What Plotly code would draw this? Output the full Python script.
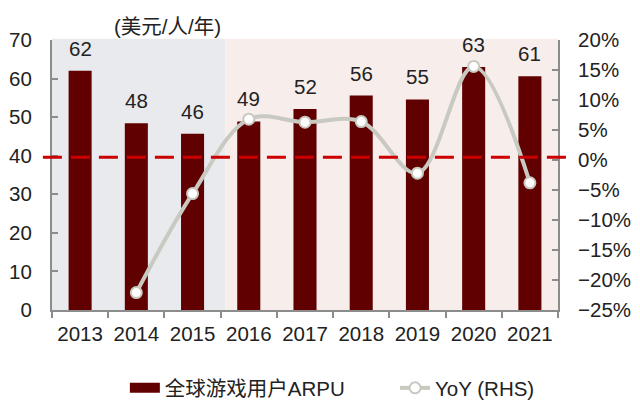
import plotly.graph_objects as go

years = ["2013", "2014", "2015", "2016", "2017", "2018", "2019", "2020", "2021"]
arpu = [62.0, 48.4, 45.7, 48.9, 52.1, 55.6, 54.6, 63.0, 60.6]
arpu_labels = ["62", "48", "46", "49", "52", "56", "55", "63", "61"]
yoy_years = ["2014", "2015", "2016", "2017", "2018", "2019", "2020", "2021"]
yoy = [-22.1, -5.6, 6.8, 6.3, 6.4, -2.2, 15.6, -3.8]

BAR = "#600000"
LINE = "#C8C9C0"
FONT = "Arial, Liberation Sans, Noto Sans CJK SC, sans-serif"
FS = 20.5

fig = go.Figure()
fig.add_trace(go.Bar(
    x=years, y=arpu, marker=dict(color=BAR, line=dict(width=0)),
    width=0.41, showlegend=False, name="全球游戏用户ARPU",
))
for i, (v, lab) in enumerate(zip(arpu, arpu_labels)):
    fig.add_annotation(x=i, y=v, text=lab, showarrow=False, xanchor="center",
                       yanchor="bottom", yshift=9, font=dict(size=FS, color="#222"))
# legend entry for the bars (wide swatch)
fig.add_trace(go.Scatter(
    x=[None], y=[None], mode="lines", line=dict(color=BAR, width=12),
    name="全球游戏用户ARPU", legend="legend",
))
fig.add_trace(go.Scatter(
    x=yoy_years, y=yoy, yaxis="y2", mode="lines+markers",
    line=dict(color=LINE, width=4, shape="spline", smoothing=1.0),
    marker=dict(size=11, color="white", line=dict(color=LINE, width=2)),
    name="YoY (RHS)", cliponaxis=False, legend="legend2",
))

fig.add_shape(type="rect", xref="x", yref="paper", x0=-0.5, x1=2.58, y0=0, y1=1.005,
              fillcolor="#E9EAEE", line=dict(width=0), layer="below")
fig.add_shape(type="rect", xref="x", yref="paper", x0=2.58, x1=8.5, y0=0, y1=1.005,
              fillcolor="#F7EDEB", line=dict(width=0), layer="below")
fig.add_shape(type="line", xref="paper", yref="y", x0=-0.018, x1=1.03, y0=39.6, y1=39.6,
              line=dict(color="#CC0000", width=3, dash="19px,9px"), layer="above")

fig.add_annotation(text="(美元/人/年)", xref="paper", yref="paper", x=0.228, y=1.0,
                   xanchor="center", yanchor="bottom", showarrow=False,
                   font=dict(size=FS, color="#222"))

axis_common = dict(showline=True, linecolor="#8C8C8C", linewidth=2, tickcolor="#8C8C8C",
                   tickwidth=2, showgrid=False, zeroline=False, automargin=False,
                   tickfont=dict(size=FS, color="#222"))

leg_common = dict(orientation="h", yanchor="middle", y=-0.289, xanchor="left",
                  font=dict(size=FS), bgcolor="rgba(0,0,0,0)")

fig.update_layout(
    width=632, height=401,
    margin=dict(l=44, r=82, t=32, b=99, autoexpand=False),
    paper_bgcolor="white", plot_bgcolor="white",
    font=dict(family=FONT, size=FS, color="#222"),
    xaxis=dict(type="category", range=[-0.5, 8.5], ticks="outside", ticklen=6,
               tickson="boundaries", ticklabelstandoff=4, **axis_common),
    yaxis=dict(range=[0, 70], dtick=10, ticks="inside", ticklen=6,
               ticklabelstandoff=14, **axis_common),
    yaxis2=dict(range=[-25, 20], dtick=5, ticksuffix="%", overlaying="y", side="right",
                ticks="inside", ticklen=6, ticklabelstandoff=14, **axis_common),
    legend=dict(x=0.144, **leg_common),
    legend2=dict(x=0.678, **leg_common),
)

fig.write_html("out.html")
